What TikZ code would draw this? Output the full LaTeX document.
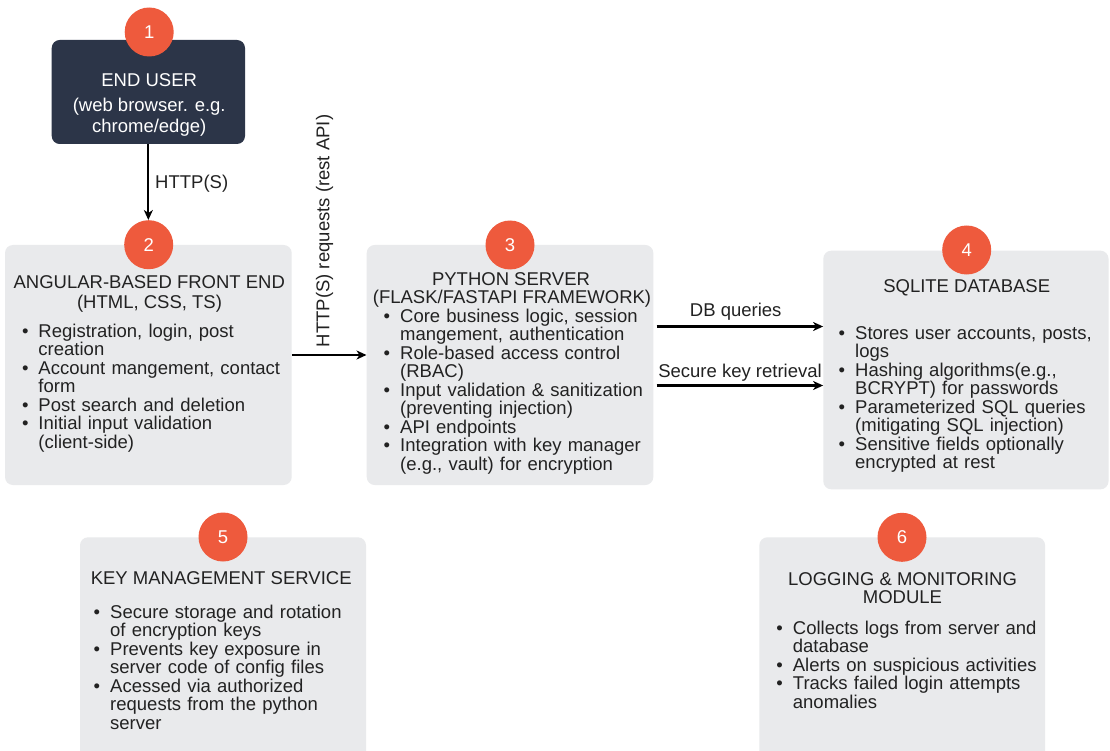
\documentclass[tikz,border=0pt]{standalone}
\usepackage{fontspec}
\setmainfont{Liberation Sans}
\usetikzlibrary{arrows.meta}
\definecolor{navy}{HTML}{2C3548}
\definecolor{boxgray}{HTML}{E9EAEC}
\definecolor{badgec}{HTML}{EE5A3D}
\definecolor{textc}{HTML}{222222}
\newlength{\hangw}
\setlength{\hangw}{16.5pt}
\newcommand{\itm}[1]{\noindent\hangindent=\hangw\hangafter=1\makebox[\hangw][l]{\textbullet}#1\par}
\tikzset{
  gbox/.style={rectangle, rounded corners=8pt, fill=boxgray, draw=none, inner sep=0pt},
  dbox/.style={rectangle, rounded corners=8pt, fill=navy, draw=none, inner sep=0pt},
  badge/.style={circle, fill=badgec, draw=none, minimum size=49pt, inner sep=0pt, text=white, font=\fontsize{18.5}{18.5}\selectfont},
  ttl/.style={anchor=base, inner sep=0pt, text=textc, font=\fontsize{18.5}{18.5}\selectfont},
  wttl/.style={anchor=base, inner sep=0pt, text=white, font=\fontsize{18.5}{18.5}\selectfont},
  lbl/.style={inner sep=0pt, text=textc, font=\fontsize{18.5}{18.5}\selectfont},
  blist/.style={anchor=base west, inner sep=0pt, text width=285pt, text=textc, font=\fontsize{18.5}{18.5}\selectfont},
  arr/.style={draw=black, line width=2.2pt, -{Stealth[length=10pt,width=9pt,inset=3pt]}}
}
\begin{document}
\begin{tikzpicture}[x=1pt,y=-1pt]
\useasboundingbox (0,0) rectangle (1110,751);
\fill[white] (0,0) rectangle (1110,751);
\clip (0,0) rectangle (1110,751);
% boxes
\node[dbox, minimum width=193.3pt, minimum height=104pt] (b1) at (148.35,92) {};
\node[gbox, minimum width=286.7pt, minimum height=240pt] (b2) at (148.35,365) {};
\node[gbox, minimum width=286.6pt, minimum height=240pt] (b3) at (510,365) {};
\node[gbox, minimum width=285.2pt, minimum height=238.6pt] (b4) at (965.9,370) {};
\node[gbox, minimum width=286pt, minimum height=240pt] (b5) at (223,657.3) {};
\node[gbox, minimum width=285.7pt, minimum height=240pt] (b6) at (902.2,657.3) {};
% badges
\node[badge] (n1) at (149.2,32) {1};
\node[badge] (n2) at (148.7,244.7) {2};
\node[badge] (n3) at (510,245) {3};
\node[badge] (n4) at (966.7,250) {4};
\node[badge] (n5) at (223,537) {5};
\node[badge] (n6) at (902,537.3) {6};
% box 1
\node[wttl] (t1a) at (149.2,86.7) {END USER};
\node[wttl] (t1b) at (149.2,111.5) {(web browser. e.g.};
\node[wttl] (t1c) at (149.2,132.7) {chrome/edge)};
% box 2
\node[ttl] (t2a) at (149.3,288.5) {ANGULAR-BASED FRONT END};
\node[ttl] (t2b) at (149.5,308.5) {(HTML, CSS, TS)};
\node[blist] (l2) at (21.8,337.3) {%
\itm{Registration, login, post\newline creation}%
\itm{Account mangement, contact\newline form}%
\itm{Post search and deletion}%
\itm{Initial input validation\newline (client-side)}};
% box 3
\node[ttl] (t3a) at (511,285) {PYTHON SERVER};
\node[ttl] (t3b) at (512,303.5) {(FLASK/FASTAPI FRAMEWORK)};
\node[blist] (l3) at (383.5,322.3) {%
\itm{Core business logic, session\newline mangement, authentication}%
\itm{Role-based access control\newline (RBAC)}%
\itm{Input validation \& sanitization\newline (preventing injection)}%
\itm{API endpoints}%
\itm{Integration with key manager\newline (e.g., vault) for encryption}};
% box 4
\node[ttl] (t4a) at (966.7,292.3) {SQLITE DATABASE};
\node[blist] (l4) at (838.5,339.3) {%
\itm{Stores user accounts, posts,\newline logs}%
\itm{Hashing algorithms(e.g.,\newline BCRYPT) for passwords}%
\itm{Parameterized SQL queries\newline (mitigating SQL injection)}%
\itm{Sensitive fields optionally\newline encrypted at rest}};
% box 5
\node[ttl] (t5a) at (221.2,584) {KEY MANAGEMENT SERVICE};
\node[blist] (l5) at (93.5,618.3) {%
\itm{Secure storage and rotation\newline of encryption keys}%
\itm{Prevents key exposure in\newline server code of config files}%
\itm{Acessed via authorized\newline requests from the python\newline server}};
% box 6
\node[ttl] (t6a) at (902.5,585) {LOGGING \& MONITORING};
\node[ttl] (t6b) at (902.5,603.3) {MODULE};
\node[blist] (l6) at (776.2,634) {%
\itm{Collects logs from server and\newline database}%
\itm{Alerts on suspicious activities}%
\itm{Tracks failed login attempts\newline anomalies}};
% connectors
\draw[arr] (b1.south) -- (b1.south |- n2.north);
\node[lbl, anchor=base west] (h1) at (155,188.3) {HTTP(S)};
\draw[arr] ([yshift=10pt]b2.east) -- ([yshift=10pt]b3.west);
\node[lbl, anchor=base west, rotate=90] (h2) at (329.3,347.3) {HTTP(S) requests (rest API)};
\draw[arr] ([yshift=38.5pt,xshift=3pt]b3.east) -- ([yshift=38.5pt]b3.east -| b4.west);
\node[lbl, anchor=base] (h3) at (735.7,316) {DB queries};
\draw[arr] ([yshift=-20.5pt,xshift=3pt]b3.east) -- ([yshift=-20.5pt]b3.east -| b4.west);
\node[lbl, anchor=base] (h4) at (740,377.3) {Secure key retrieval};
\end{tikzpicture}
\end{document}
